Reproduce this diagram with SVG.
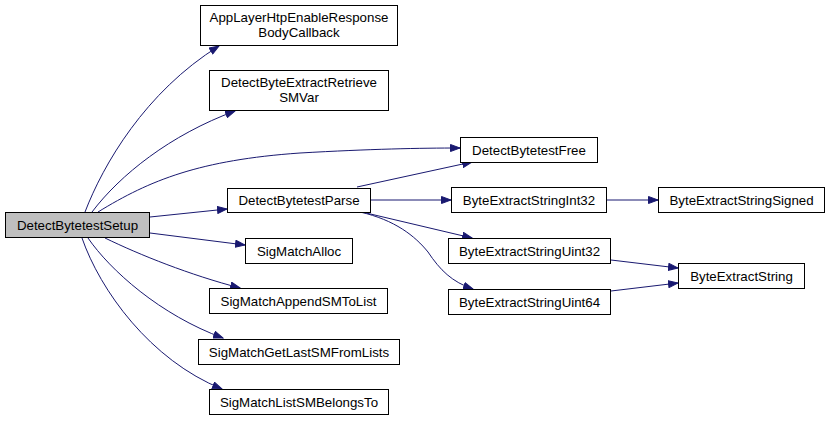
<svg xmlns="http://www.w3.org/2000/svg" width="829" height="421" viewBox="0 0 829 421">
<style>
.n rect{fill:#ffffff;stroke:#000000;stroke-width:1}
.n.root rect{fill:#bfbfbf}
.n text{font-family:"Liberation Sans",Arial,sans-serif;font-size:13.3px;text-anchor:middle;fill:#000000}
.e path{fill:none;stroke:#191970;stroke-width:1;marker-end:url(#ah)}
</style>
<defs>
<marker id="ah" markerWidth="11" markerHeight="8" refX="10" refY="4" orient="auto" markerUnits="userSpaceOnUse">
<path d="M0.5,0.5 L10,4 L0.5,7.5 z" fill="#191970" stroke="#191970" stroke-width="1"/>
</marker>
</defs>
<rect width="829" height="421" fill="#ffffff"/>
<g id="edges" class="e">
<path d="M85,212 C103,165 145,92 219,46"/>
<path d="M92,212 C120,175 170,135 235,111"/>
<path d="M98,212 C150,180 200,160 300,153 C370,149 420,148 460,148"/>
<path d="M150,217 L227,209"/>
<path d="M150,233 L245,245"/>
<path d="M105,238 C140,255 190,275 240,288"/>
<path d="M88,238 C110,270 160,315 223,338"/>
<path d="M82,238 C100,290 150,360 222,389"/>
<path d="M357,187 L472,162"/>
<path d="M370,200 L451,200"/>
<path d="M362,212 L472,238"/>
<path d="M360,212 C395,220 415,236 428,252 C440,270 452,282 473,289"/>
<path d="M606,200 L658,200"/>
<path d="M611,260 L678,268"/>
<path d="M611,291 L678,283"/>
</g>
<g id="DetectBytetestSetup" class="n root"><rect x="5.5" y="212.5" width="144" height="25"/><text x="77.5" y="229.5">DetectBytetestSetup</text></g>
<g id="AppLayerHtpEnableResponseBodyCallback" class="n"><rect x="200.5" y="5.5" width="197" height="40"/><text x="299" y="22">AppLayerHtpEnableResponse</text><text x="299" y="36.5">BodyCallback</text></g>
<g id="DetectByteExtractRetrieveSMVar" class="n"><rect x="209.5" y="70.5" width="179" height="40"/><text x="299" y="87">DetectByteExtractRetrieve</text><text x="299" y="101.5">SMVar</text></g>
<g id="DetectBytetestParse" class="n"><rect x="227.5" y="188.5" width="143" height="24"/><text x="299" y="205">DetectBytetestParse</text></g>
<g id="SigMatchAlloc" class="n"><rect x="245.5" y="238.5" width="107" height="25"/><text x="299" y="255.5">SigMatchAlloc</text></g>
<g id="SigMatchAppendSMToList" class="n"><rect x="209.5" y="288.5" width="178" height="25"/><text x="298.5" y="305.5">SigMatchAppendSMToList</text></g>
<g id="SigMatchGetLastSMFromLists" class="n"><rect x="198.5" y="339.5" width="201" height="25"/><text x="299" y="356.5">SigMatchGetLastSMFromLists</text></g>
<g id="SigMatchListSMBelongsTo" class="n"><rect x="209.5" y="389.5" width="179" height="25"/><text x="299" y="406.5">SigMatchListSMBelongsTo</text></g>
<g id="DetectBytetestFree" class="n"><rect x="460.5" y="137.5" width="137" height="25"/><text x="529" y="154.5">DetectBytetestFree</text></g>
<g id="ByteExtractStringInt32" class="n"><rect x="451.5" y="187.5" width="155" height="25"/><text x="529" y="204.5">ByteExtractStringInt32</text></g>
<g id="ByteExtractStringSigned" class="n"><rect x="658.5" y="187.5" width="166" height="25"/><text x="741.5" y="204.5">ByteExtractStringSigned</text></g>
<g id="ByteExtractStringUint32" class="n"><rect x="448.5" y="238.5" width="162" height="25"/><text x="529.5" y="255.5">ByteExtractStringUint32</text></g>
<g id="ByteExtractStringUint64" class="n"><rect x="448.5" y="289.5" width="162" height="25"/><text x="529.5" y="306.5">ByteExtractStringUint64</text></g>
<g id="ByteExtractString" class="n"><rect x="678.5" y="263.5" width="126" height="25"/><text x="741.5" y="280.5">ByteExtractString</text></g>
</svg>
